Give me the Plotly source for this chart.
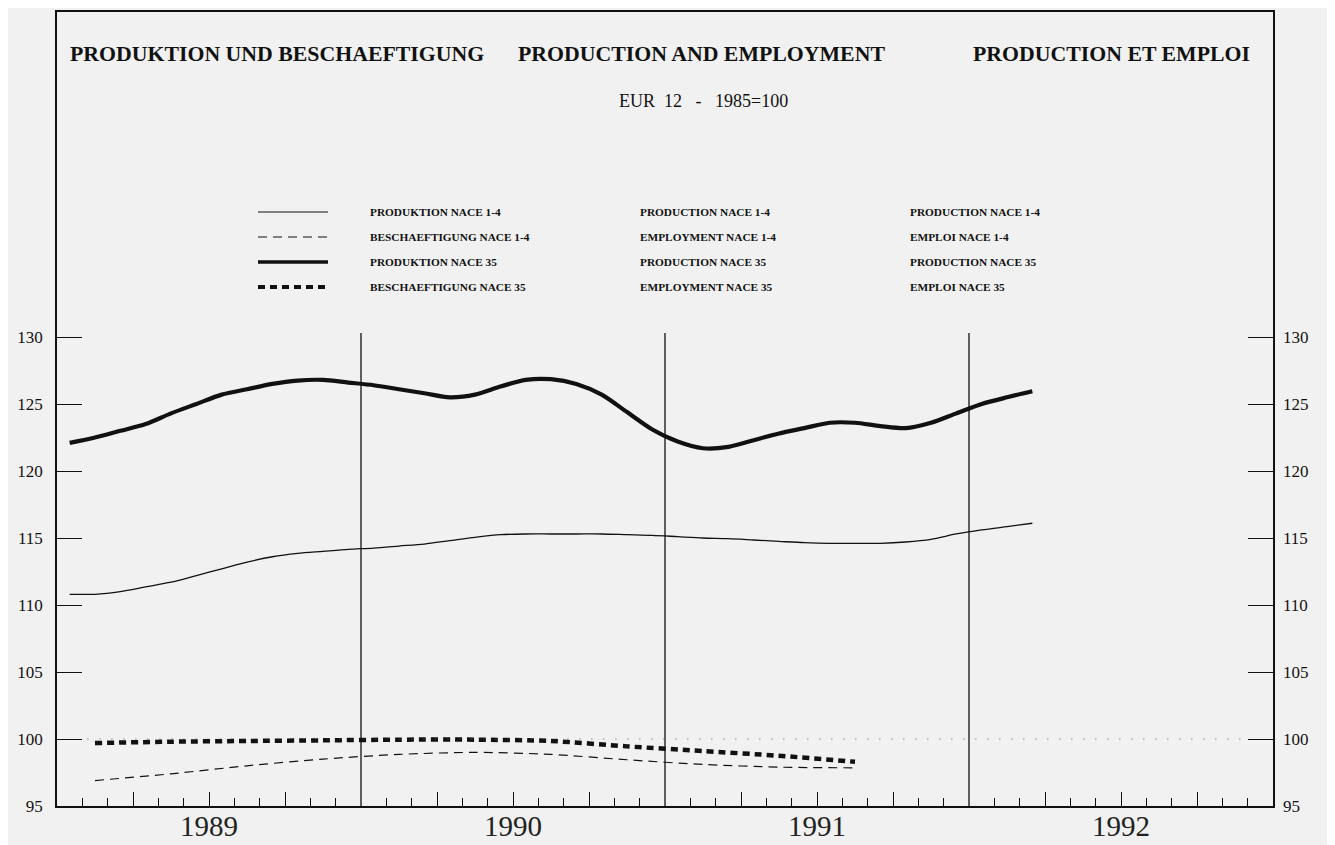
import plotly.graph_objects as go

# ---------------- data ----------------
# monthly production indices, Jan 1989 .. Mar 1992 (plotted at mid-month)
start_year = 1989
n_months = 39
prod_nace14 = [110.8, 110.8, 111.0, 111.35, 111.7, 112.2, 112.7, 113.2, 113.6, 113.85, 114.0, 114.15,
               114.25, 114.4, 114.55, 114.8, 115.05, 115.25, 115.3, 115.3, 115.3, 115.3, 115.25, 115.2,
               115.1, 115.0, 114.95, 114.85, 114.75, 114.65, 114.6, 114.6, 114.6, 114.7, 114.9, 115.3,
               115.6, 115.85, 116.1]
prod_nace35 = [122.1, 122.5, 123.0, 123.5, 124.3, 125.0, 125.7, 126.1, 126.5, 126.75, 126.8, 126.6,
               126.4, 126.1, 125.8, 125.5, 125.7, 126.3, 126.8, 126.85, 126.5, 125.7, 124.4, 123.1,
               122.2, 121.7, 121.8, 122.3, 122.8, 123.2, 123.6, 123.6, 123.35, 123.2, 123.6, 124.3,
               125.0, 125.5, 125.95]
# quarterly employment indices, Q1 1989 .. Q3 1991 (plotted at mid-quarter)
n_quarters = 11
empl_nace14 = [96.9, 97.4, 98.0, 98.5, 98.85, 99.0, 98.85, 98.45, 98.1, 97.9, 97.85]
empl_nace35 = [99.7, 99.8, 99.85, 99.9, 99.95, 99.95, 99.85, 99.45, 99.1, 98.75, 98.3]

years = [1989, 1990, 1991, 1992]
year_labels = ["1989", "1990", "1991", "1992"]
y_ticks = [95, 100, 105, 110, 115, 120, 125, 130]

titles = ["PRODUKTION UND BESCHAEFTIGUNG", "PRODUCTION AND EMPLOYMENT", "PRODUCTION ET EMPLOI"]
subtitle = "EUR  12   -   1985=100"
legend_de = ["PRODUKTION NACE 1-4", "BESCHAEFTIGUNG NACE 1-4", "PRODUKTION NACE 35", "BESCHAEFTIGUNG NACE 35"]
legend_en = ["PRODUCTION NACE 1-4", "EMPLOYMENT NACE 1-4", "PRODUCTION NACE 35", "EMPLOYMENT NACE 35"]
legend_fr = ["PRODUCTION NACE 1-4", "EMPLOI NACE 1-4", "PRODUCTION NACE 35", "EMPLOI NACE 35"]

# ---------------- styles ----------------
OFF = 8                      # page body margin of the browser
W, H = 1335 - OFF, 845 - OFF
ML, MR, MT, MB = 57 - OFF, 62, 12 - OFF, 39
PW, PH = W - ML - MR, H - MT - MB
BG = "#f1f1f1"
INK = "#111111"
SERIF = "Liberation Serif, Times New Roman, serif"

line_styles = [
    dict(color=INK, width=1.3, dash="solid"),
    dict(color=INK, width=1.2, dash="9px,6px"),
    dict(color=INK, width=4.2, dash="solid"),
    dict(color=INK, width=4.5, dash="7px,5px"),
]


def px_x(p):
    # screen pixel -> paper fraction
    return (p - OFF - ML) / PW


def px_y(p):
    return (H - MB - (p - OFF)) / PH


month_x = [start_year + (i + 0.5) / 12 for i in range(n_months)]
quarter_x = [start_year + (i + 0.5) / 4 for i in range(n_quarters)]

fig = go.Figure()
series = [
    (month_x, prod_nace14),
    (quarter_x, empl_nace14),
    (month_x, prod_nace35),
    (quarter_x, empl_nace35),
]
for (xs, ys), st, name in zip(series, line_styles, legend_de):
    fig.add_trace(go.Scatter(x=xs, y=ys, mode="lines", name=name, line=dict(shape="spline", smoothing=0.8, **st),
                             showlegend=False, hoverinfo="x+y"))
# empty trace to bind the right-hand axis
fig.add_trace(go.Scatter(x=[None], y=[None], yaxis="y2", showlegend=False, hoverinfo="skip"))

# ---------------- axes ----------------
# value 95 sits on the bottom frame (screen y 806), value 130 at screen y 337
y_top = 130 + (337 - 12) / ((806 - 337) / 35.0)
y_range = [95, y_top]
x_range = [years[0], years[-1] + 1]

quarter_ticks, quarter_text = [], []
minor_ticks = []
for yr, lab in zip(years, year_labels):
    for q in (1, 2, 3):
        quarter_ticks.append(yr + q / 4)
        quarter_text.append(lab if q == 2 else "")
    for m in range(1, 12):
        if m % 3:
            minor_ticks.append(yr + m / 12)

fig.update_layout(
    width=W, height=H,
    margin=dict(l=ML, r=MR, t=MT, b=MB, pad=0),
    paper_bgcolor=BG, plot_bgcolor=BG,
    font=dict(family=SERIF, color=INK),
    xaxis=dict(range=x_range, showgrid=False, zeroline=False, showline=True, linecolor=INK, linewidth=1.5,
               mirror=True, automargin=False, tickmode="array", tickvals=quarter_ticks, ticktext=quarter_text,
               ticks="inside", ticklen=14, tickwidth=1.2, tickcolor=INK, ticklabelstandoff=-7,
               tickfont=dict(size=29, family=SERIF, color="#222"),
               minor=dict(tickmode="array", tickvals=minor_ticks, ticks="inside", ticklen=8, tickwidth=1.2,
                          tickcolor=INK, showgrid=False)),
    yaxis=dict(range=y_range, showgrid=False, zeroline=False, showline=True, linecolor=INK, linewidth=1.5,
               mirror=True, automargin=False, tickmode="array", tickvals=y_ticks, ticks="inside", ticklen=25,
               tickwidth=1.3, tickcolor=INK, ticklabelstandoff=9, tickfont=dict(size=17, family=SERIF, color=INK)),
    yaxis2=dict(range=y_range, overlaying="y", side="right", showgrid=False, zeroline=False, showline=False,
                automargin=False, tickmode="array", tickvals=y_ticks, ticks="inside", ticklen=25, tickwidth=1.3,
                tickcolor=INK, ticklabelstandoff=9, tickfont=dict(size=17, family=SERIF, color=INK)),
)

# year boundary lines and 100 reference line
for yr in years[1:]:
    fig.add_shape(type="line", xref="x", yref="y", x0=yr, x1=yr, y0=95, y1=130.3,
                  line=dict(color=INK, width=1.3))
fig.add_shape(type="line", xref="x", yref="y", x0=years[0] + 0.1, x1=years[-1] + 0.92, y0=100, y1=100,
              line=dict(color="#555", width=1.2, dash="1px,11px"))

# ---------------- titles ----------------
title_pos = [(68, "left"), (701, "center"), (1252, "right")]
for t, (xp, anc) in zip(titles, title_pos):
    fig.add_annotation(text=t, xref="paper", yref="paper", x=px_x(xp), y=px_y(54), xanchor=anc,
                       yanchor="middle", showarrow=False,
                       font=dict(size=21.8, family=SERIF, color=INK, weight="bold"))
fig.add_annotation(text=subtitle, xref="paper", yref="paper", x=px_x(703), y=px_y(101), xanchor="center",
                   yanchor="middle", showarrow=False, font=dict(size=18, family=SERIF, color=INK))

# ---------------- legend (drawn) ----------------
row_y = [212, 237, 262, 287]
for ry, st, de, en, fr in zip(row_y, line_styles, legend_de, legend_en, legend_fr):
    fig.add_shape(type="line", xref="paper", yref="paper", x0=px_x(258), x1=px_x(328), y0=px_y(ry), y1=px_y(ry),
                  line=dict(color=INK, width=st["width"] * 0.85, dash=st["dash"]))
    for txt, xp in zip((de, en, fr), (368, 638, 908)):
        fig.add_annotation(text=txt, xref="paper", yref="paper", x=px_x(xp), y=px_y(ry), xanchor="left",
                           yanchor="middle", showarrow=False,
                           font=dict(size=11.3, family=SERIF, color=INK, weight="bold"))

fig.write_html("out.html")
